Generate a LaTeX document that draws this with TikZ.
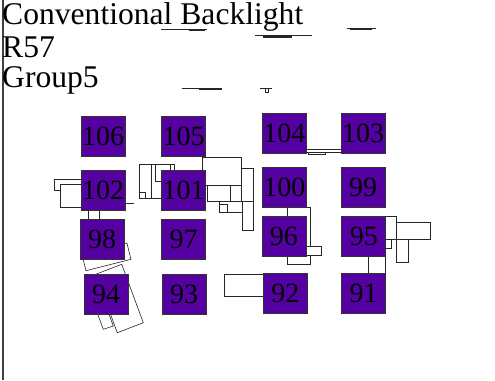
\documentclass[tikz,border=0pt]{standalone}
\usepackage{fontspec}
\setmainfont{Liberation Serif}
\usepackage{xcolor}
\usetikzlibrary{positioning}

\definecolor{lampviolet}{RGB}{85,0,160}

\begin{document}
\begin{tikzpicture}[
    x=1pt, y=-1pt,
    node distance=13pt and 36pt,
    lamp/.style={rectangle, draw=black!80, line width=0.7pt, fill=lampviolet, minimum width=44pt, minimum height=40pt, inner sep=0pt, font=\fontsize{28}{30}\selectfont},
    fitting/.style={draw=black!85, fill=white, line width=0.6pt},
    rail/.style={draw=black!85, line width=0.6pt},
    caption/.style={anchor=base west, inner sep=0pt, font=\fontsize{31.6}{34}\selectfont}
]
\useasboundingbox (0,0) rectangle (495,380);

% wall on the left
\draw[line width=1.3pt, black!75] (3,0) -- (3,380);

% Captions
\node[caption] (title) at (2,24) {Conventional Backlight};
\node[caption] (room) at (2,57) {R57};
\node[caption] (group) at (2,87) {Group5};

% Rails near the ceiling
\draw[rail] (161,29) -- (206.7,29);
\draw[rail, line width=1.6pt] (189,29.8) -- (205,29.8);
\draw[rail] (255,35.7) -- (312.3,35.7);
\draw[rail, line width=2pt] (263.3,37) -- (291.7,37);
\draw[rail] (346.7,28.5) -- (375.7,28.5);
\draw[rail, line width=1.6pt] (350,29.5) -- (372,29.5);
\draw[rail] (181.7,88.7) -- (222.3,88.7);
\draw[rail, line width=1.4pt] (199.3,89.5) -- (222.3,89.5);
\draw[rail] (260,88.3) -- (272.3,88.3);
\draw[fitting] (265,88.3) rectangle (268.3,92);

% Fittings round 102 and 101
\draw[fitting] (54.3,179) rectangle (95,190);
\draw[fitting] (60,184.3) rectangle (95,207.7);
\draw[fitting] (88,200) rectangle (99,222);
\draw[rail, line width=1.5pt] (120,203.3) -- (133.7,203.3);
\draw[fitting] (139.7,164.3) rectangle (174,198.3);
\draw[fitting] (151.3,164.3) rectangle (170,198.3);
\draw[fitting] (155.7,164.3) rectangle (170,181);
\draw[fitting] (139.7,192.3) rectangle (145.7,198.3);
\draw[fitting] (202.3,157.3) rectangle (241.7,185);
\draw[fitting] (241.7,168.3) rectangle (253.3,201.7);
\draw[fitting] (242.7,201.7) rectangle (253.3,230);
\draw[fitting] (207.3,185) rectangle (230.7,201.7);
\draw[fitting] (219.3,201.7) rectangle (242.7,212.7);
\draw[fitting] (219.3,204.3) rectangle (227.7,212.7);

% Fittings between 104 and 103
\draw[fitting] (306.7,149.3) rectangle (341,152);
\draw[fitting] (308.3,152) rectangle (325.7,154.5);
\draw[rail, line width=1.5pt] (325.7,152.6) -- (341,152.6);

% Fittings round 96 and 95
\draw[fitting] (287.3,207.7) rectangle (310,264.3);
\draw[fitting] (306,246.7) rectangle (321.7,255.7);
\draw[fitting] (385,216.7) rectangle (396.7,239.3);
\draw[fitting] (396.7,222.3) rectangle (430.7,239.3);
\draw[fitting] (396.7,239.3) rectangle (408.3,262);
\draw[fitting] (385,239.3) rectangle (391,248);
\draw[fitting] (368.3,250) rectangle (385,273.3);

% Fittings round 98, 94 and 92
\draw[fitting] (81.9,254.4) -- (126.9,243) -- (131,259.3) -- (86,270.7) -- cycle;
\draw[fitting] (95.7,274.3) -- (121.7,264.3) -- (143.3,322.7) -- (117.3,332.7) -- cycle;
\draw[fitting] (89.4,291.8) -- (99.4,288.5) -- (113.3,326) -- (103.3,329.3) -- cycle;
\draw[fitting] (224,274.3) rectangle (270,296.7);

% Lamps, first row
\node[lamp] (l106) at (103,136.5) {106};
\node[lamp, right=of l106] (l105) {105};
\node[lamp, right=56pt of l105, yshift=3pt] (l104) {104};
\node[lamp, right=34pt of l104] (l103) {103};

% second row
\node[lamp, below=of l106] (l102) {102};
\node[lamp, below=of l105] (l101) {101};
\node[lamp, below=of l104] (l100) {100};
\node[lamp, below=of l103] (l99) {99};

% third row
\node[lamp, below=8pt of l102, xshift=-1pt] (l98) {98};
\node[lamp, below=8pt of l101] (l97) {97};
\node[lamp, below=8pt of l100, xshift=-0.5pt] (l96) {96};
\node[lamp, below=8pt of l99, xshift=0.7pt] (l95) {95};

% fourth row
\node[lamp, below=15pt of l98, xshift=4pt] (l94) {94};
\node[lamp, below=15pt of l97, xshift=0.5pt] (l93) {93};
\node[lamp, below=17pt of l96, xshift=1.5pt] (l92) {92};
\node[lamp, below=17pt of l95, xshift=-0.2pt] (l91) {91};

\end{tikzpicture}
\end{document}
